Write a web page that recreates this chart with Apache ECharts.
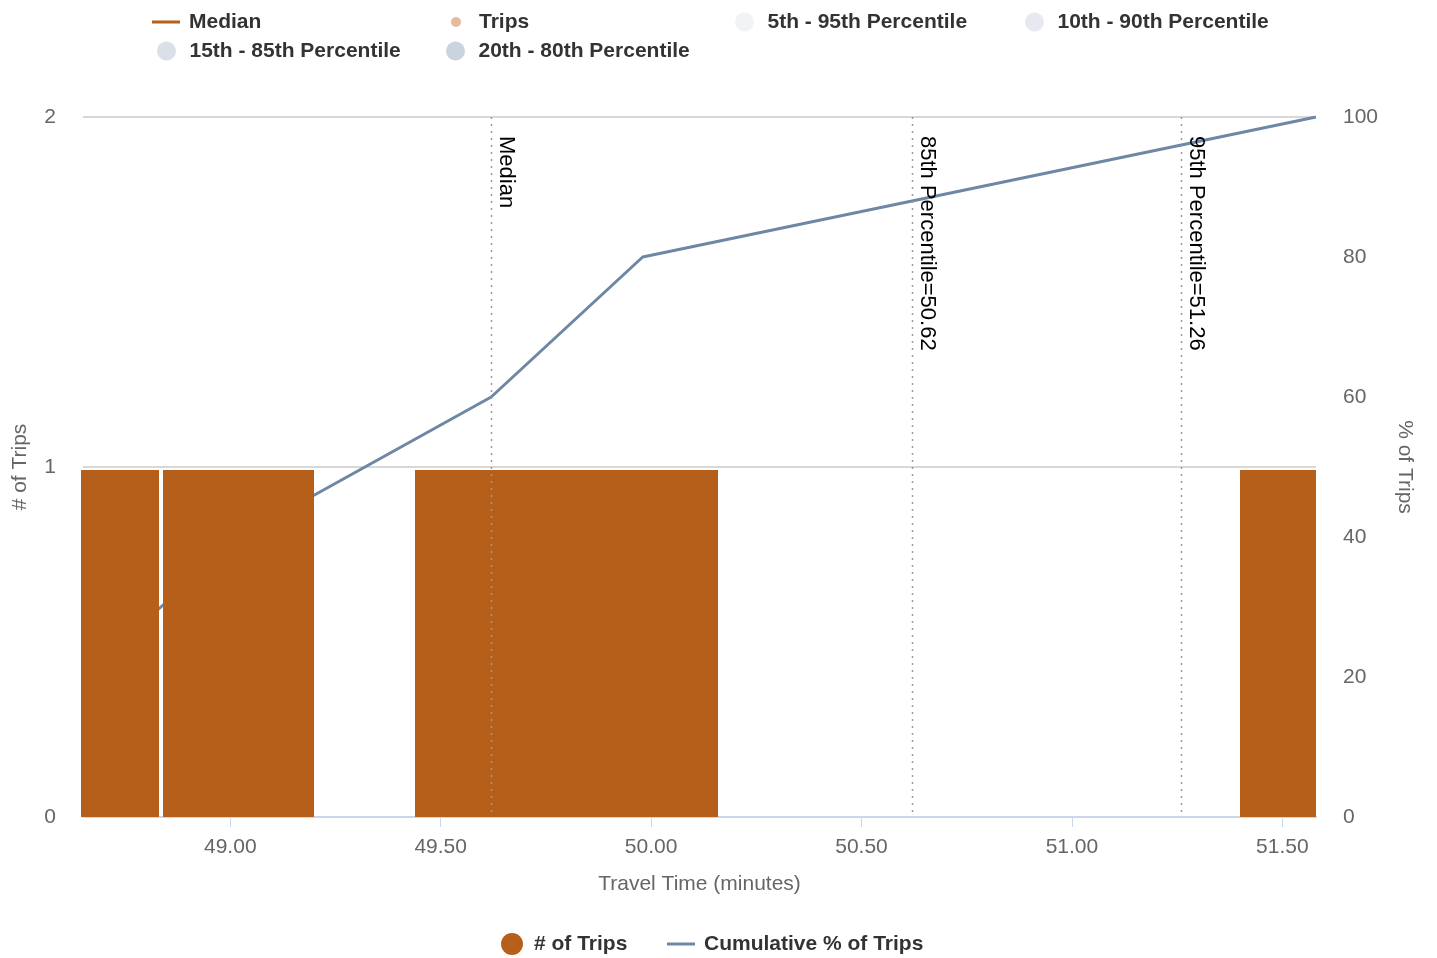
<!DOCTYPE html>
<html>
<head>
<meta charset="utf-8">
<script src="https://cdn.jsdelivr.net/npm/echarts@6/dist/echarts.min.js"></script>
<style>
html,body{margin:0;padding:0;background:#fff;}
#chart{width:1437px;height:958px;}
</style>
</head>
<body>
<div id="chart"></div>
<script>
// ---- data ----
const tripTimes = [48.65, 49.02, 49.62, 49.98, 51.58];      // minutes
const tripCounts = [1, 1, 1, 1, 1];                          // # of trips per bin
const binWidth = 0.36;                                       // minutes
const cumulativePct = [20, 40, 60, 80, 100];                 // cumulative % of trips
const percentileValues = [49.62, 50.62, 51.26];
const percentileLabels = ['Median', '85th Percentile=50.62', '95th Percentile=51.26'];
const xTickValues = [49.00, 49.50, 50.00, 50.50, 51.00, 51.50];
const xMin = 48.65, xMax = 51.58;

const FONT = '"Liberation Sans", Arial, Helvetica, sans-serif';
const BAR = '#b55f1b';
const LINE = '#6d87a4';

const chart = echarts.init(document.getElementById('chart'), null, {renderer: 'canvas'});

const legendText = {fontSize: 21, fontWeight: 'bold', color: '#333', fontFamily: FONT, lineHeight: 24};
function lg(name, left, top, icon, w, h, extra) {
  return Object.assign({
    data: [name], left: left, top: top, icon: icon, itemWidth: w, itemHeight: h,
    selectedMode: false, padding: 0, textStyle: Object.assign({}, legendText)
  }, extra || {});
}

const option = {
  animation: false,
  backgroundColor: '#fff',
  textStyle: {fontFamily: FONT},
  grid: {left: 83, right: 121, top: 117, bottom: 141, containLabel: false},
  legend: [
    lg('Median', 152, 10, 'rect', 28, 3, {textStyle: Object.assign({}, legendText, {padding: [0, 0, 0, 4]})}),
    lg('Trips', 451, 10, 'circle', 36, 10),
    lg('5th - 95th Percentile', 735, 10, 'circle', 36, 19),
    lg('10th - 90th Percentile', 1025, 10, 'circle', 36, 19),
    lg('15th - 85th Percentile', 157, 39, 'circle', 36, 19),
    lg('20th - 80th Percentile', 446, 39, 'circle', 36, 19),
    lg('# of Trips', 501, 932, 'circle', 34, 22),
    lg('Cumulative % of Trips', 667, 932, 'rect', 28, 3, {textStyle: Object.assign({}, legendText, {padding: [0, 0, 0, 4]})})
  ],
  xAxis: {
    type: 'value', min: xMin, max: xMax,
    name: 'Travel Time (minutes)', nameLocation: 'middle', nameGap: 57,
    nameTextStyle: {fontSize: 21, color: '#666', fontFamily: FONT},
    axisLine: {show: true, lineStyle: {color: '#ccd6eb', width: 2}},
    axisTick: {show: true, customValues: xTickValues, length: 10, lineStyle: {color: '#ccd6eb', width: 1}},
    axisLabel: {customValues: xTickValues, fontSize: 21, color: '#666', fontFamily: FONT, margin: 20,
      formatter: v => Number(v).toFixed(2)},
    splitLine: {show: false}
  },
  yAxis: [
    {
      type: 'value', min: 0, max: 2, interval: 1,
      name: '# of Trips', nameLocation: 'middle', nameGap: 52,
      nameTextStyle: {fontSize: 21, color: '#666', fontFamily: FONT},
      axisLine: {show: false}, axisTick: {show: false},
      axisLabel: {fontSize: 21, color: '#666', fontFamily: FONT, margin: 27},
      splitLine: {lineStyle: {color: '#d8d8d8', width: 2}}
    },
    {
      type: 'value', min: 0, max: 100, interval: 20, position: 'right',
      name: '% of Trips', nameLocation: 'middle', nameGap: 78, nameRotate: -90,
      nameTextStyle: {fontSize: 21, color: '#666', fontFamily: FONT},
      axisLine: {show: false}, axisTick: {show: false},
      axisLabel: {fontSize: 21, color: '#666', fontFamily: FONT, margin: 27},
      splitLine: {show: false}
    }
  ],
  series: [
    {name: 'Median', type: 'line', data: [], itemStyle: {color: BAR}, lineStyle: {color: BAR}},
    {name: 'Trips', type: 'scatter', data: [], itemStyle: {color: '#dea984'}},
    {name: '5th - 95th Percentile', type: 'scatter', data: [], itemStyle: {color: '#eef1f5'}},
    {name: '10th - 90th Percentile', type: 'scatter', data: [], itemStyle: {color: '#e0e5ec'}},
    {name: '15th - 85th Percentile', type: 'scatter', data: [], itemStyle: {color: '#d0d8e2'}},
    {name: '20th - 80th Percentile', type: 'scatter', data: [], itemStyle: {color: '#bdc9d7'}},
    {
      name: 'Cumulative % of Trips', type: 'line', yAxisIndex: 1, z: 2,
      data: tripTimes.map((t, i) => [t, cumulativePct[i]]),
      showSymbol: false, symbol: 'none', clip: true,
      itemStyle: {color: LINE}, lineStyle: {color: LINE, width: 3}
    },
    {
      name: '# of Trips', type: 'custom', z: 3, clip: false,
      itemStyle: {color: BAR},
      data: tripTimes.map((t, i) => [t, tripCounts[i]]),
      encode: {x: 0, y: 1},
      renderItem: function (params, api) {
        const x = api.value(0), c = api.value(1);
        const p1 = api.coord([x - binWidth / 2, c]);
        const p2 = api.coord([x + binWidth / 2, 0]);
        const cs = params.coordSys;
        const x1 = Math.round(p1[0]), x2 = Math.round(p2[0]);
        const y1 = Math.round(p1[1]) + 3, y2 = Math.round(p2[1]);
        const r = echarts.graphic.clipRectByRect(
          {x: x1, y: y1, width: x2 - x1, height: y2 - y1},
          {x: cs.x - 2, y: cs.y, width: cs.width + 2, height: cs.height});
        if (!r) return null;
        return {type: 'rect', shape: r, style: {fill: BAR}};
      }
    },
    {
      name: 'percentiles', type: 'custom', z: 4, silent: true,
      data: percentileValues.map((v, i) => [v, i]),
      encode: {x: 0},
      renderItem: function (params, api) {
        const cs = params.coordSys;
        const x = Math.round(api.coord([api.value(0), 0])[0]) + 0.5;
        const idx = api.value(1);
        return {
          type: 'group',
          children: [
            {type: 'line', shape: {x1: x, y1: cs.y, x2: x, y2: cs.y + cs.height},
              style: {stroke: '#9a9a9a', lineWidth: 1.5, lineDash: [2, 5]}},
            {type: 'text', x: x + 4, y: cs.y + 19, rotation: -Math.PI / 2,
              style: {text: percentileLabels[idx], fill: '#000', fontSize: 22, fontFamily: FONT,
                align: 'left', verticalAlign: 'bottom'}}
          ]
        };
      }
    }
  ]
};
chart.setOption(option);
</script>
</body>
</html>
